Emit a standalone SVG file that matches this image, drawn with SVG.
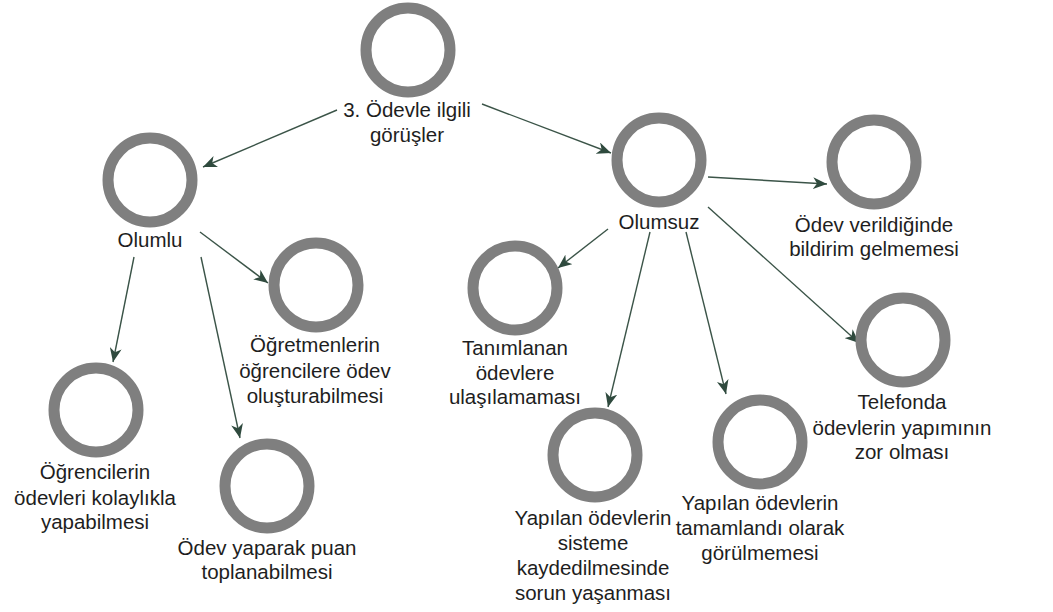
<svg xmlns="http://www.w3.org/2000/svg" width="1053" height="612" viewBox="0 0 1053 612">
<style>
.ring{fill:#fff;stroke:#7f7f7f;stroke-width:11}
.lbl{font-family:"Liberation Sans",Arial,sans-serif;font-size:20.5px;fill:#1e1e1e;text-anchor:middle}
.edge{stroke:#3b5448;stroke-width:1.4;fill:none;marker-end:url(#ah)}
</style>
<defs>
<marker id="ah" markerUnits="userSpaceOnUse" markerWidth="16" markerHeight="12" refX="14" refY="6" orient="auto">
<path d="M0,0 L14,6 L0,12 L4,6 z" fill="#2f4a3e"/>
</marker>
</defs>
<rect width="1053" height="612" fill="#fff"/>
<g id="connectors">
<line class="edge" x1="337" y1="110" x2="203" y2="167"/>
<line class="edge" x1="482" y1="104" x2="611" y2="153"/>
<line class="edge" x1="708" y1="177" x2="827" y2="184"/>
<line class="edge" x1="200" y1="232" x2="268" y2="283"/>
<line class="edge" x1="134" y1="257" x2="113" y2="362"/>
<line class="edge" x1="201" y1="257" x2="240" y2="438"/>
<line class="edge" x1="608" y1="229" x2="558" y2="268"/>
<line class="edge" x1="650" y1="232" x2="608" y2="407"/>
<line class="edge" x1="686" y1="232" x2="726" y2="394"/>
<line class="edge" x1="708" y1="207" x2="859" y2="343"/>
</g>
<g id="n-root">
<circle class="ring" cx="408" cy="50" r="42"/>
<text class="lbl" x="407" y="117">3. Ödevle ilgili</text>
<text class="lbl" x="407" y="142">görüşler</text>
</g>
<g id="n-olumlu">
<circle class="ring" cx="150" cy="180" r="42"/>
<text class="lbl" x="150" y="247">Olumlu</text>
</g>
<g id="n-olumsuz">
<circle class="ring" cx="659" cy="160" r="42"/>
<text class="lbl" x="659" y="229">Olumsuz</text>
</g>
<g id="n-bildirim">
<circle class="ring" cx="874" cy="162" r="42"/>
<text class="lbl" x="874" y="232">Ödev verildiğinde</text>
<text class="lbl" x="874" y="256">bildirim gelmemesi</text>
</g>
<g id="n-ogretmen">
<circle class="ring" cx="316" cy="285" r="42"/>
<text class="lbl" x="315" y="352">Öğretmenlerin</text>
<text class="lbl" x="315" y="378">öğrencilere ödev</text>
<text class="lbl" x="315" y="403">oluşturabilmesi</text>
</g>
<g id="n-ogrenci">
<circle class="ring" cx="96" cy="410" r="42"/>
<text class="lbl" x="95" y="479">Öğrencilerin</text>
<text class="lbl" x="95" y="505">ödevleri kolaylıkla</text>
<text class="lbl" x="95" y="529">yapabilmesi</text>
</g>
<g id="n-puan">
<circle class="ring" cx="267" cy="486" r="42"/>
<text class="lbl" x="267" y="555">Ödev yaparak puan</text>
<text class="lbl" x="267" y="579">toplanabilmesi</text>
</g>
<g id="n-tanimlanan">
<circle class="ring" cx="515" cy="288" r="42"/>
<text class="lbl" x="515" y="355">Tanımlanan</text>
<text class="lbl" x="515" y="380">ödevlere</text>
<text class="lbl" x="515" y="404">ulaşılamaması</text>
</g>
<g id="n-sisteme">
<circle class="ring" cx="595" cy="455" r="42"/>
<text class="lbl" x="593" y="525">Yapılan ödevlerin</text>
<text class="lbl" x="593" y="550">sisteme</text>
<text class="lbl" x="593" y="575">kaydedilmesinde</text>
<text class="lbl" x="593" y="600">sorun yaşanması</text>
</g>
<g id="n-tamamlandi">
<circle class="ring" cx="760" cy="442" r="42"/>
<text class="lbl" x="760" y="510">Yapılan ödevlerin</text>
<text class="lbl" x="760" y="535">tamamlandı olarak</text>
<text class="lbl" x="760" y="560">görülmemesi</text>
</g>
<g id="n-telefon">
<circle class="ring" cx="903" cy="340" r="42"/>
<text class="lbl" x="902" y="409">Telefonda</text>
<text class="lbl" x="902" y="435">ödevlerin yapımının</text>
<text class="lbl" x="902" y="459">zor olması</text>
</g>
</svg>
